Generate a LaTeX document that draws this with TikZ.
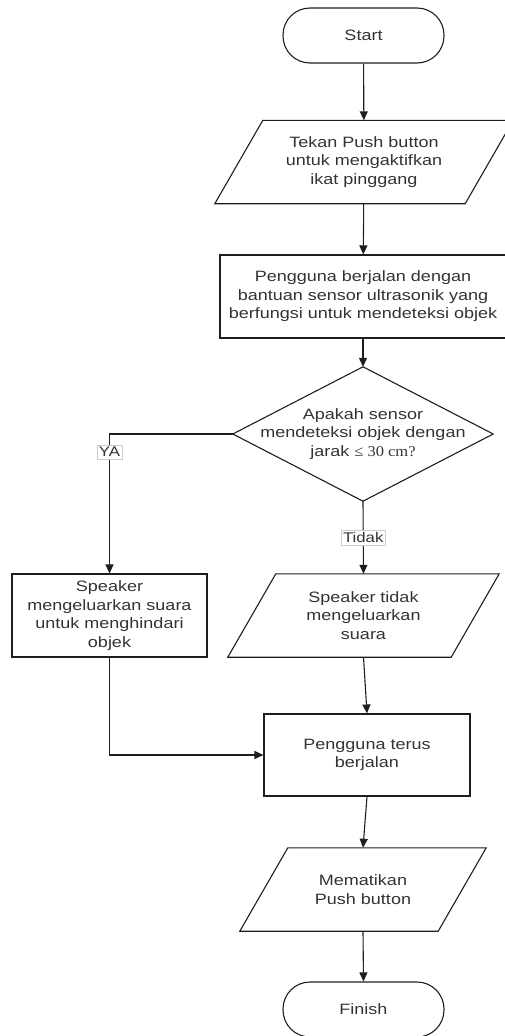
\documentclass[tikz,border=0pt]{standalone}
\usepackage{fontspec}
\setmainfont{Liberation Sans}[FakeStretch=1.2]
\newfontfamily\serifpart{Liberation Serif}[FakeStretch=1.1]
\usetikzlibrary{arrows.meta}
\definecolor{linec}{HTML}{1E1E1E}
\definecolor{textc}{HTML}{333333}
\begin{document}
\begin{tikzpicture}[x=1pt,y=1pt,
  every node/.style={font=\fontsize{15}{18.5}\selectfont, text=textc, align=center, inner sep=0pt},
  term/.style={draw=linec, line width=1.1pt, rounded corners=27pt, minimum width=161pt, minimum height=55pt},
  proc/.style={draw=linec, line width=1.1pt, minimum height=83pt},
  io/.style={minimum height=83pt},
  iopath/.style={draw=linec, line width=1.1pt},
  lbl/.style={fill=white, draw=black!20, line width=0.4pt, inner xsep=2pt, inner ysep=2.5pt, font=\fontsize{14}{16}\selectfont},
  conn/.style={draw=linec, line width=1.1pt, -{Triangle[length=9pt,width=8pt]}}
]
\useasboundingbox (0,0) rectangle (505,-1036);

\node[term] (start) at (363.5,-35.5) {Start};
\node[io, minimum width=250pt] (p1) at (364,-162) {Tekan Push button\\untuk mengaktifkan\\ikat pinggang};
\node[proc, minimum width=286pt] (r2) at (363,-296.5) {Pengguna berjalan dengan\\bantuan sensor ultrasonik yang\\berfungsi untuk mendeteksi objek};
\node[minimum width=260pt, minimum height=134pt] (d) at (363,-434) {Apakah sensor\\mendeteksi objek dengan\\jarak {\serifpart ≤ 30 cm?}};
\node[proc, minimum width=195pt] (l) at (109.5,-615.5) {Speaker\\mengeluarkan suara\\untuk menghindari\\objek};
\node[io, minimum width=223pt] (p2) at (363.5,-615.5) {Speaker tidak\\mengeluarkan\\suara};
\node[proc, minimum width=206pt, minimum height=82pt] (r3) at (367,-755) {Pengguna terus\\berjalan};
\node[io, minimum width=198pt] (p3) at (363,-889.5) {Mematikan\\Push button};
\node[term] (fin) at (363.5,-1009.5) {Finish};

\foreach \n in {p1,p2,p3}
  \path[iopath] ([xshift=24pt]\n.north west) -- ([xshift=24pt]\n.north east)
     -- ([xshift=-24pt]\n.south east) -- ([xshift=-24pt]\n.south west) -- cycle;
\draw[draw=linec, line width=1.1pt] (d.north) -- (d.east) -- (d.south) -- (d.west) -- cycle;

\coordinate (ya) at (109.5,-434);
\coordinate (lj) at (109.5,-755);

\draw[conn] (start) -- (p1);
\draw[conn] (p1) -- (r2);
\draw[conn] (r2) -- (d.north);
\draw[conn] (d.west) -- (ya) -- node[lbl, pos=0.13] (yal) {YA} (l.north);
\draw[conn] (d.south) -- node[lbl, pos=0.5] (tdk) {Tidak} (p2.north);
\draw[conn] (p2.south) -- (r3.north);
\draw[conn] (l.south) -- (lj) -- (r3.west);
\draw[conn] (r3.south) -- (p3.north);
\draw[conn] (p3.south) -- (fin.north);
\end{tikzpicture}
\end{document}
